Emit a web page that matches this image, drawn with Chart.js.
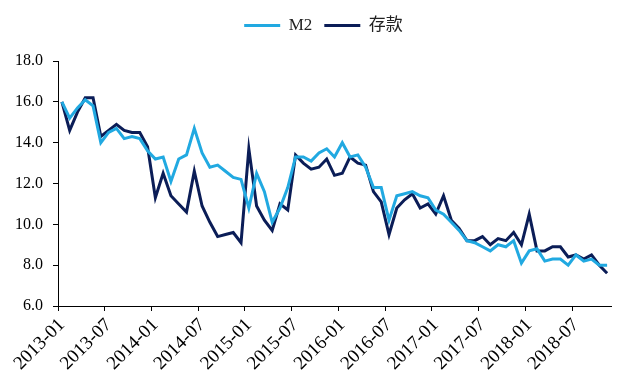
<!DOCTYPE html>
<html>
<head>
<meta charset="utf-8">
<script src="https://cdn.jsdelivr.net/npm/chart.js@4/dist/chart.umd.min.js"></script>
<style>
    html, body { margin: 0; padding: 0; background: #fff; }
    canvas { display: block; }
</style>
</head>
<body>
<canvas id="m2Chart" width="640" height="384"></canvas>
<script>
// -----------------------------------------
// Daten (monatlich, 2013-01 bis 2018-11, % yoy)
// -----------------------------------------
const years = ["2013", "2014", "2015", "2016", "2017", "2018"];
const monthNames = ["01", "02", "03", "04", "05", "06", "07", "08", "09", "10", "11", "12"];

const m2 = [
    16.0, 15.2, 15.7, 16.1, 15.8, 14.0, 14.5, 14.7, 14.2, 14.3, 14.2, 13.6,
    13.2, 13.3, 12.1, 13.2, 13.4, 14.7, 13.5, 12.8, 12.9, 12.6, 12.3, 12.2,
    10.8, 12.5, 11.6, 10.1, 10.8, 11.8, 13.3, 13.3, 13.1, 13.5, 13.7, 13.3,
    14.0, 13.3, 13.4, 12.8, 11.8, 11.8, 10.2, 11.4, 11.5, 11.6, 11.4, 11.3,
    10.7, 10.5, 10.1, 9.7, 9.2, 9.1, 8.9, 8.7, 9.0, 8.9, 9.2, 8.1,
    8.7, 8.8, 8.2, 8.3, 8.3, 8.0, 8.5, 8.2, 8.3, 8.0, 8.0
];

const deposits = [
    16.0, 14.6, 15.5, 16.2, 16.2, 14.3, 14.6, 14.9, 14.6, 14.5, 14.5, 13.8,
    11.3, 12.5, 11.4, 11.0, 10.6, 12.6, 10.9, 10.1, 9.4, 9.5, 9.6, 9.1,
    13.7, 10.9, 10.2, 9.7, 11.0, 10.7, 13.4, 13.0, 12.7, 12.8, 13.2, 12.4,
    12.5, 13.3, 13.0, 12.9, 11.6, 11.1, 9.5, 10.8, 11.2, 11.5, 10.8, 11.0,
    10.5, 11.4, 10.2, 9.8, 9.2, 9.2, 9.4, 9.0, 9.3, 9.2, 9.6, 9.0,
    10.5, 8.7, 8.7, 8.9, 8.9, 8.4, 8.5, 8.3, 8.5, 8.0, 7.6
];

// Kategorien: ein Eintrag pro Datenpunkt
const labels = [];
years.forEach(y => monthNames.forEach(m => labels.push(y + "-" + m)));
labels.length = m2.length;

const yTicks = [6, 8, 10, 12, 14, 16, 18];
const labelEvery = 6;

const fontFamily = "'Times New Roman', 'Liberation Serif', 'Noto Sans CJK SC', serif";


// -----------------------------------------
// Legende: Höhe und Lage anpassen
// -----------------------------------------
const legendTweak = {
    id: "legendTweak",
    beforeInit(chart) {
        const legend = chart.legend;
        const origFit = legend.fit;
        legend.fit = function () {
            origFit.call(this);
            this.height = 56;
        };
    },
    afterLayout(chart) {
        chart.legend.left += 14;
        chart.legend.right += 14;
    }
};


// -----------------------------------------
// Diagramm
// -----------------------------------------
const ctx = document.getElementById("m2Chart").getContext("2d");

new Chart(ctx, {
    type: "line",
    data: {
        labels: labels,
        datasets: [{
            label: "M2",
            data: m2,
            borderColor: "#21a9e1",
            backgroundColor: "#21a9e1",
            borderWidth: 3,
            pointRadius: 0,
            tension: 0
        }, {
            label: "存款",
            data: deposits,
            borderColor: "#0b1d57",
            backgroundColor: "#0b1d57",
            borderWidth: 3,
            pointRadius: 0,
            tension: 0
        }]
    },
    options: {
        responsive: false,
        animation: false,
        devicePixelRatio: 1,
        layout: { padding: { left: 8, right: 29, top: 5, bottom: 0 } },
        plugins: {
            legend: {
                position: "top",
                labels: {
                    usePointStyle: true,
                    pointStyle: "line",
                    pointStyleWidth: 36,
                    padding: 12,
                    color: "#222",
                    font: { family: fontFamily, size: 17 }
                }
            },
            tooltip: { enabled: false }
        },
        scales: {
            x: {
                offset: true,
                afterFit(scale) { scale.height = 78; },
                border: { color: "#000", width: 1 },
                grid: {
                    offset: true,
                    drawOnChartArea: false,
                    drawTicks: true,
                    tickLength: 5,
                    color: (c) => (c.index !== undefined && c.index % labelEvery === 0) ? "#000" : "rgba(0,0,0,0)"
                },
                ticks: {
                    autoSkip: false,
                    minRotation: 45,
                    maxRotation: 45,
                    padding: 3,
                    color: "#000",
                    font: { family: fontFamily, size: 19 },
                    callback: (val, i) => (i % labelEvery === 0) ? labels[i] : ""
                }
            },
            y: {
                min: yTicks[0],
                max: yTicks[yTicks.length - 1],
                afterFit(scale) { scale.width = 50; },
                afterBuildTicks(scale) { scale.ticks = yTicks.map(v => ({ value: v })); },
                border: { color: "#000", width: 1 },
                grid: {
                    drawOnChartArea: false,
                    drawTicks: true,
                    tickLength: 5,
                    color: "#000"
                },
                ticks: {
                    padding: 10,
                    color: "#000",
                    font: { family: fontFamily, size: 16 },
                    callback: (v) => Number(v).toFixed(1)
                }
            }
        }
    },
    plugins: [legendTweak]
});
</script>
</body>
</html>
